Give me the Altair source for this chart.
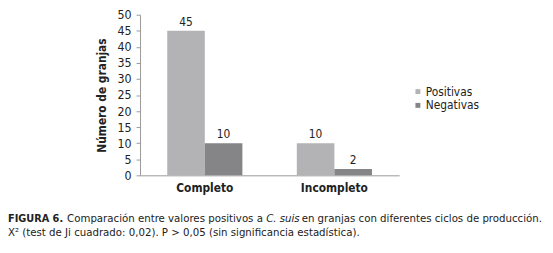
import altair as alt
import pandas as pd

categorias = ["Completo", "Incompleto"]
positivas = [45, 10]
negativas = [10, 2]
series = ["Positivas", "Negativas"]
colores = ["#b3b3b5", "#858588"]
y_ticks = [0, 5, 10, 15, 20, 25, 30, 35, 40, 45, 50]

rows = []
for i, c in enumerate(categorias):
    rows.append({"Ciclo": c, "Resultado": "Positivas", "n": positivas[i]})
    rows.append({"Ciclo": c, "Resultado": "Negativas", "n": negativas[i]})
df = pd.DataFrame(rows)

FONT = "DejaVu Sans Condensed"

x = alt.X("Ciclo:N", sort=categorias, title=None,
          scale=alt.Scale(paddingInner=0.42, paddingOuter=0.21),
          axis=alt.Axis(labelAngle=0, ticks=False, labelFontWeight="bold",
                        labelFont=FONT, labelFontSize=12, labelColor="#222",
                        labelPadding=7, domainColor="#999"))
xo = alt.XOffset("Resultado:N", sort=series,
                 scale=alt.Scale(paddingInner=0, paddingOuter=0))
y = alt.Y("n:Q", title="Número de granjas",
          scale=alt.Scale(domain=[0, 50]),
          axis=alt.Axis(values=y_ticks, grid=False, tickSize=4, tickColor="#999",
                        domainColor="#999", labelFont=FONT, labelFontSize=12.5,
                        labelColor="#222", labelPadding=5,
                        titleFont=FONT, titleFontSize=12, titleFontWeight="bold",
                        titleColor="#222", titlePadding=9))
color = alt.Color("Resultado:N", sort=series,
                  scale=alt.Scale(domain=series, range=colores),
                  legend=alt.Legend(title=None, orient="none", legendX=276, legendY=72,
                                    symbolType="square", symbolSize=25,
                                    symbolStrokeWidth=0,
                                    labelFont=FONT, labelFontSize=12,
                                    labelColor="#222", rowPadding=2, labelOffset=2))

bars = alt.Chart(df).mark_bar().encode(x=x, xOffset=xo, y=y, color=color)
labels = alt.Chart(df).mark_text(dy=-9, font=FONT, fontSize=12, color="#222").encode(
    x=x, xOffset=xo, y=y, text="n:Q")

cap_y1 = 207
cap_y2 = 222
caption_parts = [
    ("FIGURA 6.", -134, cap_y1, "bold", "normal", 11),
    ("Comparación entre valores positivos a", -74, cap_y1, "normal", "normal", 11.5),
    ("C. suis", 128, cap_y1, "normal", "italic", 11.5),
    ("en granjas con diferentes ciclos de producción.", 164, cap_y1, "normal", "normal", 11.5),
    ("X² (test de Ji cuadrado: 0,02). P > 0,05 (sin significancia estadística).", -134, cap_y2, "normal", "normal", 11.5),
]
caps = []
for txt, cx, cy, w, st, fs in caption_parts:
    caps.append(alt.Chart(pd.DataFrame({"t": [txt]})).mark_text(
        align="left", baseline="middle", font=FONT, fontSize=fs,
        fontWeight=w, fontStyle=st, color="#222").encode(
        x=alt.value(cx), y=alt.value(cy), text="t:N"))

chart = alt.layer(bars, labels, *caps).properties(
    width=263, height=163,
    padding={"left": 134, "top": 5, "right": 148, "bottom": 77},
    autosize=alt.AutoSizeParams(type="none"),
    background="white",
).configure_view(stroke=None)

chart.save("out.html", embed_options={"renderer": "svg", "actions": False})
